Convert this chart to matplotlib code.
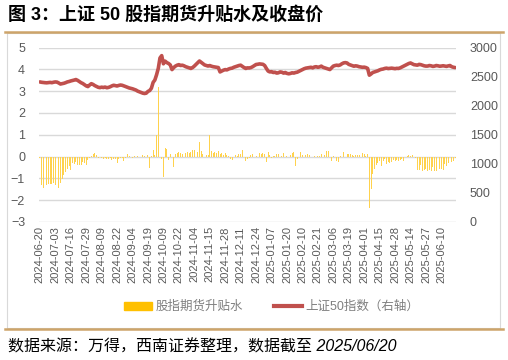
import matplotlib
matplotlib.use('Agg')
import matplotlib.pyplot as plt
from matplotlib.lines import Line2D
from matplotlib.patches import Patch, Rectangle
import numpy as np
import pandas as pd

# 交易日（去掉周末与A股休市日）
holidays = ['2024-09-16', '2024-09-17', '2024-10-01', '2024-10-02', '2024-10-03',
            '2024-10-04', '2024-10-07', '2025-01-01', '2025-01-28', '2025-01-29',
            '2025-01-30', '2025-01-31', '2025-02-03', '2025-02-04', '2025-04-04',
            '2025-05-01', '2025-05-02', '2025-05-05', '2025-06-02']
dates = [d for d in pd.bdate_range('2024-06-20', '2025-06-20')
         if d.strftime('%Y-%m-%d') not in holidays]
date_labels = [d.strftime('%Y-%m-%d') for d in dates]

# 股指期货升贴水（左轴）
basis = [
    -0.05, -1.3, -1.42, -1.35, -1.3, -1.25, -1.25, -1.28, -1.22, -1.3,
    -1.38, -1.42, -1.2, -1.05, -0.85, -0.7, -0.55, -0.45, -0.6, -0.3,
    -0.35, -0.25, -0.4, -0.4, -0.38, -0.25, -0.3, -0.4, -0.15, -0.05,
    0.02, 0.1, 0.15, 0.08, -0.05, -0.02, -0.08, -0.1, -0.05, -0.1,
    -0.12, -0.08, -0.15, -0.1, -0.12, -0.28, -0.1, -0.05, -0.08, -0.2,
    -0.05, 0.1, 0.02, -0.03, -0.05, 0.02, -0.02, 0.03, 0.0, -0.02,
    0.07, 0.03, -0.02, 0.05, -0.53, 0.02, 0.3, 0.05, 1.0, 3.2,
    3.8, -0.1, -0.95, 0.4, 0.35, -0.15, 0.1, -0.1, -0.5, 0.1,
    0.15, 0.2, 0.15, 0.1, 0.1, 0.15, 0.2, 0.15, 0.2, 0.3,
    0.3, 0.45, 0.2, 0.65, 0.25, 0.1, 0.0, 0.05, 0.05, 1.0,
    0.25, 0.15, 0.2, 0.15, 0.25, 0.1, 0.15, 0.05, 0.15, 0.05,
    0.02, -0.1, -0.15, 0.0, 0.05, 0.02, 0.1, 0.1, 0.3, 0.0,
    -0.2, -0.1, -0.05, 0.05, 0.1, 0.0, 0.02, 0.0, 0.15, 0.1,
    0.15, 0.1, -0.25, 0.2, 0.05, -0.05, 0.02, 0.02, 0.1, 0.1,
    0.0, 0.02, 0.15, 0.0, 0.02, 0.0, 0.05, 0.15, 0.2, -0.45,
    -0.1, 0.05, 0.2, 0.05, 0.0, 0.05, 0.1, 0.05, 0.05, 0.0,
    0.02, 0.0, 0.03, 0.02, 0.1, 0.2, 0.05, 0.25, 0.25, 0.0,
    -0.2, 0.02, 0.0, -0.2, -0.25, 0.02, 0.0, 0.2, 0.0, 0.1,
    0.1, 0.1, 0.05, 0.02, 0.05, 0.05, 0.05, 0.0, 0.15, 0.1,
    0.02, 0.1, -2.35, -1.5, -0.8, -0.55, -0.4, -0.3, -0.2, -0.45,
    -0.2, -0.1, -0.35, -0.25, -0.3, -0.25, -0.15, -0.2, -0.15, -0.2,
    -0.15, -0.1, -0.2, 0.0, 0.02, 0.05, 0.02, 0.05, 0.0, -0.05,
    -0.6, -0.6, -0.4, -0.65, -0.6, -0.55, -0.65, -0.6, -0.65, -0.5,
    -0.65, -0.65, -0.6, -0.55, -0.55, -0.6, -0.35, -0.45, -0.3, -0.4,
    -0.25, -0.2, -0.05,
]

# 上证50指数（右轴）
sz50 = [
    2408, 2402, 2398, 2395, 2393, 2397, 2400, 2395, 2403, 2408,
    2405, 2390, 2372, 2378, 2385, 2395, 2408, 2415, 2425, 2432,
    2440, 2449, 2435, 2415, 2395, 2381, 2360, 2340, 2328, 2355,
    2378, 2365, 2345, 2330, 2316, 2310, 2318, 2312, 2320, 2308,
    2314, 2325, 2340, 2351, 2345, 2338, 2348, 2355, 2350, 2340,
    2328, 2316, 2305, 2298, 2290, 2280, 2268, 2250, 2238, 2228,
    2215, 2209, 2215, 2245, 2260, 2300, 2400, 2440, 2530, 2640,
    2820, 2860, 2720, 2765, 2740, 2725, 2700, 2620, 2655, 2680,
    2696, 2705, 2690, 2696, 2685, 2670, 2660, 2650, 2640, 2655,
    2680, 2710, 2740, 2768, 2745, 2720, 2700, 2690, 2681, 2690,
    2678, 2670, 2665, 2660, 2655, 2580, 2595, 2610, 2620, 2615,
    2630, 2640, 2645, 2660, 2670, 2680, 2690, 2696, 2675, 2655,
    2640, 2650, 2648, 2655, 2670, 2690, 2708, 2712, 2718, 2715,
    2711, 2690, 2640, 2595, 2580, 2585, 2570, 2575, 2560, 2565,
    2580, 2575, 2560, 2570, 2555, 2548, 2554, 2565, 2560, 2570,
    2576, 2590, 2605, 2620, 2635, 2645, 2650, 2655, 2660, 2650,
    2665, 2670, 2660, 2666, 2680, 2660, 2650, 2640, 2630, 2621,
    2650, 2680, 2690, 2696, 2690, 2700, 2720, 2735, 2740, 2734,
    2710, 2700, 2690, 2678, 2685, 2680, 2670, 2665, 2660, 2662,
    2655, 2640, 2524, 2545, 2570, 2580, 2590, 2600, 2615, 2625,
    2630, 2640, 2645, 2638, 2642, 2645, 2640, 2636, 2642, 2640,
    2650, 2665, 2680, 2695, 2710, 2725, 2734, 2720, 2705, 2700,
    2696, 2710, 2705, 2695, 2685, 2680, 2681, 2690, 2685, 2675,
    2680, 2690, 2685, 2678, 2681, 2686, 2680, 2675, 2684, 2690,
    2670, 2660, 2655,
]

left_ticks = [-3, -2, -1, 0, 1, 2, 3, 4, 5]
right_ticks = [0, 500, 1000, 1500, 2000, 2500, 3000]
tick_step = 9

title = '图 3：上证 50 股指期货升贴水及收盘价'
source = '数据来源：万得，西南证券整理，数据截至 2025/06/20'
bar_name = '股指期货升贴水'
line_name = '上证50指数（右轴）'

plt.rcParams['font.family'] = ['Liberation Sans', 'Noto Sans CJK SC', 'DejaVu Sans']

W, H = 508, 360
TAN = '#CDA46A'
GREY = '#595959'


def fx(px):
    return px / W


def fy(py):
    return 1 - py / H


def draw_chart():
    fig = plt.figure(figsize=(W / 100, H / 100), dpi=100)

    # 外框与装饰线
    fig.add_artist(Rectangle((fx(6.5), fy(328)), fx(500) - fx(6.5), fy(33) - fy(328),
                             transform=fig.transFigure, fill=False, ec='#D9D9D9', lw=0.8))
    fig.add_artist(Line2D([fx(5), fx(503)], [fy(32), fy(32)], color=TAN, lw=1.8))
    fig.add_artist(Line2D([fx(5), fx(503)], [fy(328.5), fy(328.5)], color=TAN, lw=1.8))

    fig.text(fx(8), fy(15), title, fontsize=13, fontweight='bold', va='center', ha='left',
             color='black')
    fig.text(fx(8), fy(347), source, fontsize=11.5, style='italic', va='center', ha='left',
             color='black')

    ax = fig.add_axes([fx(39), fy(222), fx(456) - fx(39), fy(47.5) - fy(222)])
    x = np.arange(len(dates))
    ax.bar(x, basis, width=0.55, color='#FFD24D', zorder=2, linewidth=0)
    ax.set_ylim(-3, 5)
    ax.set_yticks(left_ticks)
    ax.set_xlim(-0.5, len(dates) - 0.5)
    ax.set_xticks(x[::tick_step])
    ax.set_xticklabels(date_labels[::tick_step], rotation=90, fontsize=8, color=GREY)
    ax.tick_params(axis='y', labelsize=9, colors=GREY, length=0, pad=10)
    ax.tick_params(axis='x', length=0, pad=3)
    ax.yaxis.grid(True, color='#D9D9D9', lw=1)
    ax.set_axisbelow(True)
    for s in ax.spines.values():
        s.set_visible(False)

    ax2 = ax.twinx()
    ax2.plot(x, sz50, color='#C0504D', lw=2.6, solid_capstyle='round')
    ax2.set_ylim(0, 3000)
    ax2.set_yticks(right_ticks)
    ax2.tick_params(axis='y', labelsize=9, colors=GREY, length=0, pad=10)
    for s in ax2.spines.values():
        s.set_visible(False)

    handles = [Patch(color='#FFC000', label=bar_name),
               Line2D([], [], color='#C0504D', lw=3, label=line_name)]
    fig.legend(handles=handles, loc='center', bbox_to_anchor=(fx(272), fy(307)), ncol=2,
               frameon=False, fontsize=9, labelcolor='#7F7F7F', handlelength=2.2,
               handleheight=0.6, columnspacing=2.5, handletextpad=0.3)

    fig.savefig('out.png', dpi=100)
    plt.close(fig)


if __name__ == '__main__':
    draw_chart()
